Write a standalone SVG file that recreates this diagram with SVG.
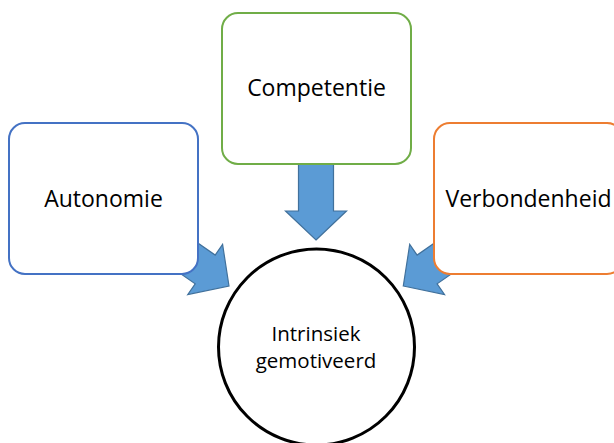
<svg xmlns="http://www.w3.org/2000/svg" xmlns:xlink="http://www.w3.org/1999/xlink" width="614" height="443" viewBox="0 0 614 443">
  <style>
    .box { fill: #ffffff; stroke-width: 2; }
    .arrow { fill: #5B9BD5; stroke: #41719C; stroke-width: 1.2; stroke-linejoin: miter; }
    .lbl { font-family: "Open Sans", "Noto Sans", sans-serif; font-size: 23px; fill: #000000; text-anchor: middle; }
    .clbl { font-family: "Open Sans", "Noto Sans", sans-serif; font-size: 20.5px; fill: #000000; text-anchor: middle; }
  </style>
  <defs>
    <path id="blockArrow" d="M0,0 L-29,-30.5 L-29,-17.5 L-85,-17.5 L-85,17.5 L-29,17.5 L-29,30.5 Z"/>
  </defs>
  <rect width="614" height="443" fill="#ffffff"/>
  <g id="connectors">
    <use xlink:href="#blockArrow" href="#blockArrow" class="arrow" transform="translate(316,240) rotate(90)"/>
    <use xlink:href="#blockArrow" href="#blockArrow" class="arrow" transform="translate(229,286) rotate(34.8)"/>
    <use xlink:href="#blockArrow" href="#blockArrow" class="arrow" transform="translate(403.3,286) rotate(145.2)"/>
  </g>
  <g id="autonomie">
    <rect class="box" x="9" y="123" width="189" height="151" rx="16" ry="16" stroke="#4472C4"/>
    <text class="lbl" x="103.5" y="207">Autonomie</text>
  </g>
  <g id="competentie">
    <rect class="box" x="222" y="13" width="189" height="151" rx="16" ry="16" stroke="#70AD47"/>
    <text class="lbl" x="316.5" y="96">Competentie</text>
  </g>
  <g id="verbondenheid">
    <rect class="box" x="434" y="123" width="189" height="151" rx="16" ry="16" stroke="#ED7D31"/>
    <text class="lbl" x="528.5" y="207">Verbondenheid</text>
  </g>
  <g id="intrinsiek">
    <circle cx="316.5" cy="347" r="98" fill="#ffffff" stroke="#000000" stroke-width="3"/>
    <text class="clbl" x="316" y="341">Intrinsiek</text>
    <text class="clbl" x="316" y="368">gemotiveerd</text>
  </g>
</svg>
